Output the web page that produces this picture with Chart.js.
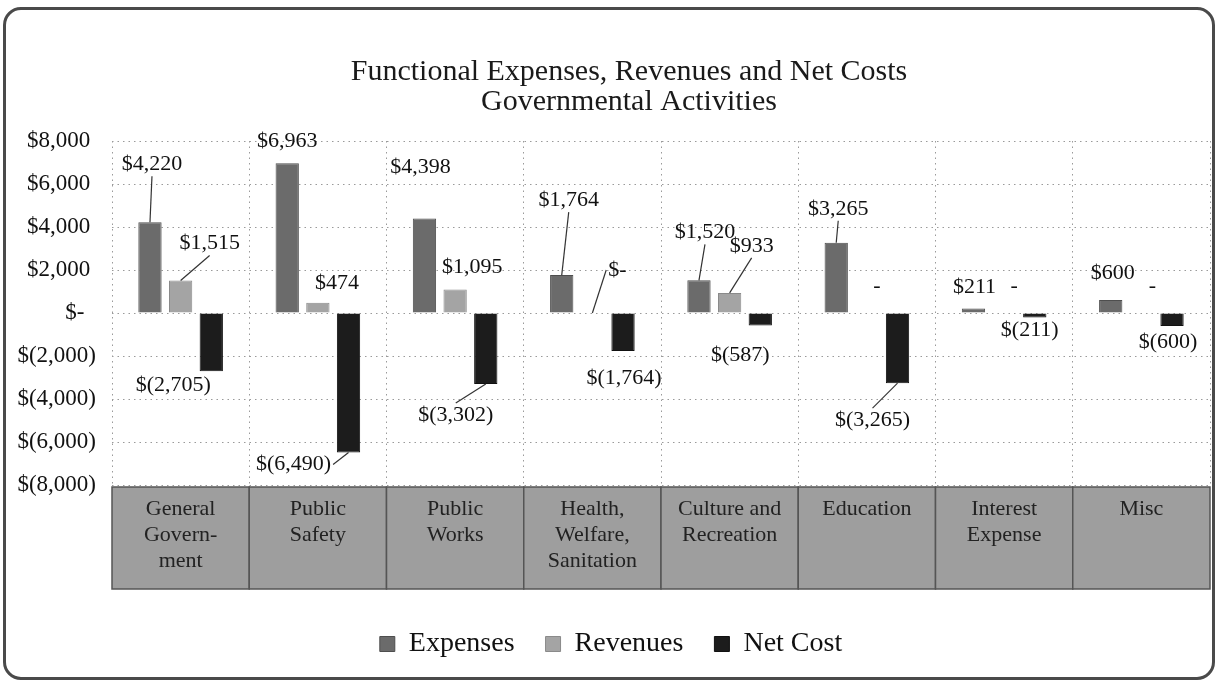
<!DOCTYPE html>
<html>
<head>
<meta charset="utf-8">
<script src="https://cdn.jsdelivr.net/npm/chart.js@4.4.1/dist/chart.umd.min.js"></script>
<style>
  html, body { margin: 0; padding: 0; background: #fff; }
  #wrap { position: relative; width: 1218px; height: 684px; }
  #moldura { position: absolute; left: 3px; top: 7px; width: 1206px; height: 667px; border: 3px solid #4a4a4a; border-radius: 18px; pointer-events: none; }
</style>
</head>
<body>
<div id="wrap">
  <canvas id="grafico" width="1218" height="684"></canvas>
  <div id="moldura"></div>
</div>
<script>
// Dados do gráfico
const categorias = [
  ["General", "Govern-", "ment"],
  ["Public", "Safety"],
  ["Public", "Works"],
  ["Health,", "Welfare,", "Sanitation"],
  ["Culture and", "Recreation"],
  ["Education"],
  ["Interest", "Expense"],
  ["Misc"]
];
const despesas = [4220, 6963, 4398, 1764, 1520, 3265, 211, 600];
const receitas = [1515, 474, 1095, 0, 933, null, null, null];
const custoLiquido = [-2705, -6490, -3302, -1764, -587, -3265, -211, -600];
const nomesSeries = ["Expenses", "Revenues", "Net Cost"];
const tituloLinhas = ["Functional Expenses, Revenues and Net Costs", "Governmental Activities"];

// Estilo dos rótulos (deslocamento em px a partir da ponta da barra) e linhas guia
const deslocRotulos = [
  [[2, -58], [0, -22], [-4, -51], [7, -75], [6, -48], [2, -34], [1, -21], [2, -27]],
  [[29, -37], [19, -20], [17, -22], [25, -43], [22, -47], [10, -27], [10, -27], [11, -27]],
  [[-38, 14], [-55, 12], [-30, 31], [1, 27], [-20, 30], [-25, 37], [-5, 13], [-4, 16]]
];
const linhasGuia = [
  [1, 0, 0, 1, 1, 1, 0, 0],
  [1, 0, 0, 1, 1, 0, 0, 0],
  [0, 1, 1, 0, 0, 1, 0, 0]
];

const fonte = "'Liberation Serif', 'DejaVu Serif', serif";
const coresSeries = ["#6b6b6b", "#a4a4a4", "#1c1c1c"];

function formatarMoeda(valor) {
  if (valor === null || valor === undefined) return "-";
  if (valor === 0) return "$-";
  const txt = Math.abs(valor).toLocaleString("en-US");
  return valor < 0 ? "$(" + txt + ")" : "$" + txt;
}

// Título desenhado à mão (um pouco deslocado para a direita, como no original)
const tituloDeslocado = {
  id: "tituloDeslocado",
  afterDraw(chart) {
    const ctx = chart.ctx;
    const bloco = chart.titleBlock;
    ctx.save();
    ctx.font = "30px " + fonte;
    ctx.fillStyle = "#1a1a1a";
    ctx.textAlign = "center";
    ctx.textBaseline = "middle";
    tituloLinhas.forEach((t, k) => ctx.fillText(t, 629, bloco.top + 35 + 15 + k * 30));
    ctx.restore();
  }
};

// Caixas cinzas com os nomes das categorias
const caixasCategorias = {
  id: "caixasCategorias",
  afterDraw(chart) {
    const ctx = chart.ctx;
    const x = chart.scales.x;
    const area = chart.chartArea;
    const larg = x.getPixelForValue(1) - x.getPixelForValue(0);
    const topo = area.bottom + 2;
    const altura = 102;
    ctx.save();
    categorias.forEach((linhas, i) => {
      const cx = x.getPixelForValue(i);
      ctx.fillStyle = "#9e9e9e";
      ctx.fillRect(cx - larg / 2, topo, larg, altura);
      ctx.strokeStyle = "#555";
      ctx.lineWidth = 1.5;
      ctx.strokeRect(cx - larg / 2, topo, larg, altura);
      ctx.fillStyle = "#222";
      ctx.font = "22px " + fonte;
      ctx.textAlign = "center";
      ctx.textBaseline = "middle";
      linhas.forEach((t, k) => ctx.fillText(t, cx, topo + 22 + k * 26));
    });
    ctx.restore();
  }
};

// Rótulos de valores com linhas guia
const rotulosDados = {
  id: "rotulosDados",
  afterDatasetsDraw(chart) {
    const ctx = chart.ctx;
    const y = chart.scales.y;
    ctx.save();
    ctx.font = "22px " + fonte;
    ctx.textAlign = "center";
    ctx.textBaseline = "middle";
    chart.data.datasets.forEach((ds, i) => {
      const meta = chart.getDatasetMeta(i);
      meta.data.forEach((el, j) => {
        const v = ds.data[j];
        const bx = el.x;
        const by = y.getPixelForValue(v === null ? 0 : v);
        const [dx, dy] = deslocRotulos[i][j];
        const lx = bx + dx;
        const ly = by + dy;
        const texto = formatarMoeda(v);
        const w = ctx.measureText(texto).width;
        if (linhasGuia[i][j]) {
          let ex, ey;
          if (Math.abs(dx) > w / 2 + 6) {
            ex = dx > 0 ? lx - w / 2 - 2 : lx + w / 2 + 2;
            ey = ly;
          } else {
            ex = lx;
            ey = dy < 0 ? ly + 12 : ly - 12;
          }
          ctx.strokeStyle = "#333";
          ctx.lineWidth = 1.2;
          ctx.beginPath();
          ctx.moveTo(bx, by);
          ctx.lineTo(ex, ey);
          ctx.stroke();
        }
        ctx.fillStyle = "#111";
        ctx.fillText(texto, lx, ly);
      });
    });
    ctx.restore();
  }
};

const ctx = document.getElementById("grafico").getContext("2d");
new Chart(ctx, {
  type: "bar",
  data: {
    labels: categorias,
    datasets: [
      { label: nomesSeries[0], data: despesas, backgroundColor: coresSeries[0], borderColor: "#4e4e4e", borderWidth: 1 },
      { label: nomesSeries[1], data: receitas, backgroundColor: coresSeries[1], borderColor: "#8a8a8a", borderWidth: 1 },
      { label: nomesSeries[2], data: custoLiquido, backgroundColor: coresSeries[2], borderColor: "#111", borderWidth: 1 }
    ]
  },
  options: {
    responsive: false,
    animation: false,
    layout: { padding: { left: 12, right: 8, top: 22, bottom: 16 } },
    datasets: { bar: { categoryPercentage: 0.67, barPercentage: 0.76 } },
    scales: {
      x: {
        ticks: { display: false },
        grid: { offset: true, color: "#9a9a9a", lineWidth: 1, drawTicks: false },
        border: { display: false, dash: [1.5, 4] },
        afterFit: (s) => { s.height = 114; }
      },
      y: {
        min: -8000,
        max: 8000,
        ticks: {
          stepSize: 2000,
          color: "#111",
          padding: 16,
          font: { family: fonte, size: 23 },
          callback: (v) => {
            if (v === 0) return "$-  ";
            return v > 0 ? formatarMoeda(v) + " " : formatarMoeda(v);
          }
        },
        grid: { color: "#9a9a9a", lineWidth: 1, drawTicks: false },
        border: { display: false, dash: [1.5, 4] },
        afterFit: (s) => { s.width = 100; }
      }
    },
    plugins: {
      title: {
        display: true,
        text: tituloLinhas,
        color: "rgba(0,0,0,0)",
        font: { family: fonte, size: 30, weight: "normal", lineHeight: 1.0 },
        padding: { top: 33, bottom: 26 }
      },
      legend: {
        position: "bottom",
        labels: {
          color: "#111",
          font: { family: fonte, size: 28 },
          boxWidth: 15,
          boxHeight: 15,
          padding: 31
        }
      },
      tooltip: { enabled: false }
    }
  },
  plugins: [tituloDeslocado, caixasCategorias, rotulosDados]
});
</script>
</body>
</html>
